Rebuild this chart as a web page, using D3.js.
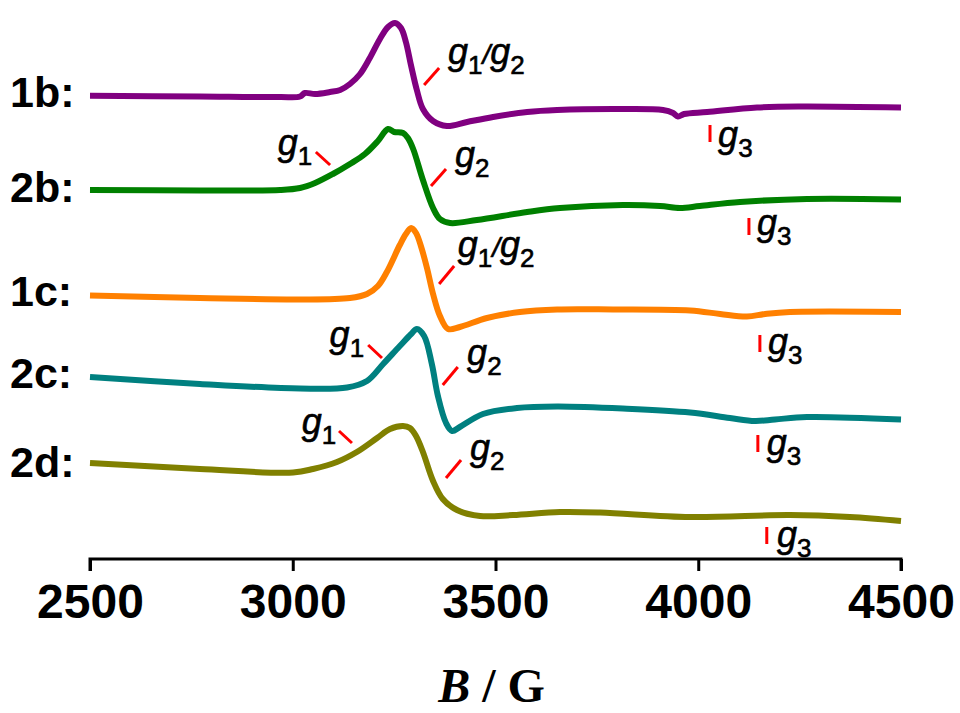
<!DOCTYPE html>
<html>
<head>
<meta charset="utf-8">
<script src="https://cdn.jsdelivr.net/npm/d3@7/dist/d3.min.js"></script>
<style>
  html, body { margin: 0; padding: 0; background: #fff; }
  svg { display: block; }
</style>
</head>
<body>
<svg id="chart" width="960" height="713"></svg>
<script>
// EPR spectra (first derivative), stacked with vertical offsets, intensity in a.u.
const fieldTicks = [2500, 3000, 3500, 4000, 4500];
const sampleNames = ["1b:", "2b:", "1c:", "2c:", "2d:"];
const sampleColors = ["#800080", "#008000", "#ff8000", "#008080", "#808000"];

// [B (G), intensity (a.u., offset included)]
const spectrum1b = [
  [2500, 46.33], [2771, 46.25], [2969, 46.2], [3018, 46.25], [3030, 46.6], [3055, 46.5],
  [3092, 46.7], [3117, 46.9], [3141, 47.5], [3166, 48.5], [3190, 50.1], [3215, 52.0],
  [3235, 53.2], [3252, 53.6], [3267, 53.1], [3279, 51.7], [3292, 49.3], [3306, 46.9],
  [3321, 45.0], [3346, 43.8], [3380, 43.3], [3430, 43.7], [3494, 44.2], [3578, 44.7],
  [3652, 44.9], [3807, 45.0], [3913, 44.9], [3938, 44.6], [3950, 44.25], [3965, 44.5],
  [4022, 44.7], [4145, 45.15], [4251, 45.25], [4500, 45.15]
];
const spectrum2b = [
  [2500, 36.9], [2771, 36.85], [2969, 36.9], [3018, 37.1], [3055, 37.6], [3099, 38.5],
  [3141, 39.5], [3178, 40.5], [3210, 41.8], [3235, 43.0], [3250, 42.7], [3272, 42.6],
  [3284, 42.1], [3297, 41.0], [3321, 37.9], [3346, 35.1], [3363, 34.0], [3388, 33.6],
  [3454, 33.9], [3578, 34.7], [3659, 35.1], [3814, 35.4], [3906, 35.3], [3955, 35.1],
  [4004, 35.3], [4103, 35.7], [4268, 36.0], [4500, 35.95]
];
const spectrum1c = [
  [2500, 26.35], [2771, 26.1], [3018, 25.95], [3141, 26.1], [3183, 26.5], [3210, 27.3],
  [3232, 28.7], [3264, 31.4], [3279, 32.5], [3292, 33.1], [3304, 32.6], [3316, 31.3],
  [3331, 29.1], [3346, 26.5], [3363, 24.3], [3383, 23.0], [3412, 23.2], [3479, 24.1],
  [3560, 24.7], [3652, 24.95], [3790, 24.95], [3980, 24.85], [4054, 24.5], [4120, 24.25],
  [4165, 24.5], [4226, 24.7], [4500, 24.7]
];
const spectrum2c = [
  [2500, 18.2], [2771, 17.5], [3018, 17.05], [3134, 17.15], [3183, 17.8], [3223, 19.5],
  [3264, 21.3], [3292, 22.5], [3306, 23.0], [3324, 22.3], [3343, 19.5], [3358, 16.3],
  [3378, 13.6], [3393, 12.8], [3412, 13.2], [3469, 14.5], [3553, 15.1], [3652, 15.25],
  [3814, 15.05], [3980, 14.65], [4078, 14.1], [4140, 13.8], [4189, 13.95], [4268, 14.2],
  [4500, 13.95]
];
const spectrum2d = [
  [2500, 9.6], [2771, 9.0], [3001, 8.65], [3050, 9.0], [3109, 9.7], [3158, 10.7],
  [3208, 12.1], [3240, 13.0], [3272, 13.3], [3289, 13.1], [3304, 12.3], [3321, 10.7],
  [3346, 7.8], [3370, 6.0], [3405, 4.9], [3462, 4.3], [3543, 4.4], [3659, 4.7],
  [3758, 4.65], [3980, 4.2], [4226, 4.4], [4374, 4.2], [4500, 3.8]
];
const spectra = [spectrum1b, spectrum2b, spectrum1c, spectrum2c, spectrum2d];
// label baseline for each trace, in intensity units
const nameLevels = [45.2, 35.7, 25.3, 17.1, 8.2];

// g-value markers: tick segment [B0, I0, B1, I1], label anchor [B, I], subscripts, anchor side
const gMarkers = [
  { seg: [3324, 47.4, 3361, 49.1], at: [3383, 49.55], text: ["1", "2"], anchor: "start" },
  { seg: [4029, 43.4, 4029, 41.7], at: [4049, 41.2], text: ["3"], anchor: "start" },
  { seg: [3057, 40.7, 3092, 39.4], at: [3048, 40.4], text: ["1"], anchor: "end" },
  { seg: [3341, 37.3, 3378, 39.0], at: [3400, 39.2], text: ["2"], anchor: "start" },
  { seg: [4125, 34.1, 4125, 32.4], at: [4145, 32.4], text: ["3"], anchor: "start" },
  { seg: [3361, 27.5, 3398, 29.3], at: [3407, 30.2], text: ["1", "2"], anchor: "start" },
  { seg: [4152, 22.4, 4152, 20.7], at: [4172, 20.5], text: ["3"], anchor: "start" },
  { seg: [3186, 21.4, 3220, 20.1], at: [3176, 21.2], text: ["1"], anchor: "end" },
  { seg: [3370, 17.4, 3407, 19.2], at: [3430, 19.4], text: ["2"], anchor: "start" },
  { seg: [4147, 12.4, 4147, 10.7], at: [4169, 10.4], text: ["3"], anchor: "start" },
  { seg: [3114, 12.8, 3146, 11.6], at: [3107, 12.5], text: ["1"], anchor: "end" },
  { seg: [3378, 8.1, 3415, 9.9], at: [3437, 9.9], text: ["2"], anchor: "start" },
  { seg: [4169, 3.2, 4169, 1.5], at: [4194, 1.2], text: ["3"], anchor: "start" }
];

const svg = d3.select("#chart");
const x = d3.scaleLinear().domain([2500, 4500]).range([90, 901]);
const y = d3.scaleLinear().domain([0, 55.9]).range([559, 0]);

// traces
const line = d3.line()
  .x(d => x(d[0]))
  .y(d => y(d[1]))
  .curve(d3.curveCatmullRom.alpha(0.5));

svg.append("g").selectAll("path")
  .data(spectra)
  .join("path")
  .attr("d", line)
  .attr("fill", "none")
  .attr("stroke", (d, i) => sampleColors[i])
  .attr("stroke-width", 6)
  .attr("stroke-linejoin", "round")
  .attr("stroke-linecap", "butt");

// sample names
svg.append("g").selectAll("text")
  .data(sampleNames)
  .join("text")
  .attr("x", 10)
  .attr("y", (d, i) => y(nameLevels[i]))
  .attr("font-family", "Liberation Sans, Arial, sans-serif")
  .attr("font-weight", "bold")
  .attr("font-size", 43)
  .attr("fill", "#000")
  .text(d => d);

// g markers
const gm = svg.append("g");
gm.selectAll("line")
  .data(gMarkers)
  .join("line")
  .attr("x1", d => x(d.seg[0])).attr("y1", d => y(d.seg[1]))
  .attr("x2", d => x(d.seg[2])).attr("y2", d => y(d.seg[3]))
  .attr("stroke", "#ff0000")
  .attr("stroke-width", 3);

gMarkers.forEach(d => {
  const t = gm.append("text")
    .attr("x", x(d.at[0]))
    .attr("y", y(d.at[1]))
    .attr("text-anchor", d.anchor)
    .attr("font-family", "Liberation Sans, Arial, sans-serif")
    .attr("font-size", 36)
    .attr("fill", "#000")
    .attr("stroke", "#000")
    .attr("stroke-width", 0.6);
  d.text.forEach((s, k) => {
    if (k > 0) {
      t.append("tspan").attr("dy", -10).attr("font-size", 28).attr("font-style", "italic").text("/");
    }
    t.append("tspan").attr("dy", k > 0 ? 0 : null).attr("font-style", "italic").text("g");
    t.append("tspan").attr("dy", 10).attr("font-size", 26).text(s);
  });
});

// x axis
const axis = svg.append("g").attr("transform", `translate(0,${y(0)})`)
  .call(d3.axisBottom(x).tickValues(fieldTicks).tickSize(12).tickSizeOuter(12).tickFormat(d3.format("d")));
axis.select(".domain").attr("stroke", "#000").attr("stroke-width", 3)
  .attr("d", `M${x(2500)},12V0H${x(4500)}V12`);
axis.selectAll(".tick line").attr("stroke", "#000").attr("stroke-width", 3);
axis.selectAll(".tick text")
  .attr("font-family", "Liberation Sans, Arial, sans-serif")
  .attr("font-weight", "bold")
  .attr("font-size", 48)
  .attr("fill", "#000")
  .attr("dy", null)
  .attr("y", 59);

// axis title
const title = svg.append("text")
  .attr("x", (x(2500) + x(4500)) / 2 - 4)
  .attr("y", 702)
  .attr("text-anchor", "middle")
  .attr("font-family", "Liberation Serif, Times New Roman, serif")
  .attr("font-weight", "bold")
  .attr("font-size", 48)
  .attr("fill", "#000");
title.append("tspan").attr("font-style", "italic").text("B");
title.append("tspan").text(" / G");
</script>
</body>
</html>
